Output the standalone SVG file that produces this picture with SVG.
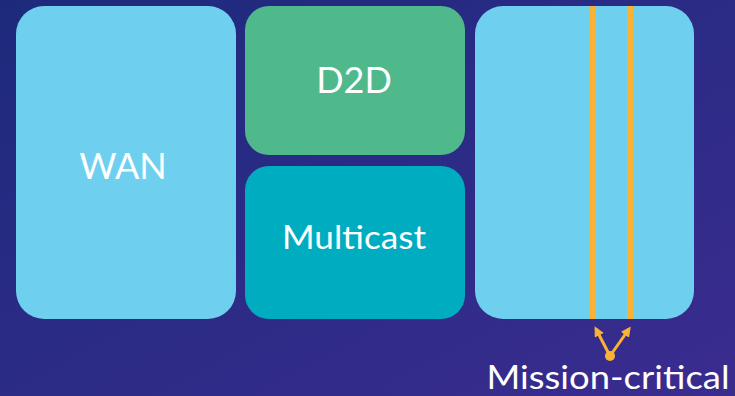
<svg xmlns="http://www.w3.org/2000/svg" width="735" height="396" viewBox="0 0 735 396">
  <style>
    .label { font-family: "Lato", "Liberation Sans", sans-serif; fill: #ffffff; text-anchor: middle; }
    .lane { fill: #f9b233; }
    .pointer { stroke: #f9b233; stroke-width: 3; fill: none; marker-end: url(#head); }
  </style>
  <defs>
    <linearGradient id="bg" x1="0" y1="0" x2="1" y2="1">
      <stop offset="0" stop-color="#1d2a7c"/>
      <stop offset="1" stop-color="#3a2c8f"/>
    </linearGradient>
    <marker id="head" viewBox="0 0 10 10" refX="7" refY="5" markerWidth="3.4" markerHeight="3.4" orient="auto" markerUnits="strokeWidth">
      <path d="M0,0 L10,5 L0,10 Z" fill="#f9b233"/>
    </marker>
  </defs>

  <rect x="0" y="0" width="735" height="396" fill="url(#bg)"/>

  <g id="wan">
    <rect x="16" y="6" width="220" height="313" rx="28" fill="#6ecfee"/>
    <text class="label" x="123" y="179" font-size="36">WAN</text>
  </g>

  <g id="d2d">
    <rect x="245" y="6" width="220" height="149" rx="24" fill="#4fb98b"/>
    <text class="label" x="354" y="93" font-size="36">D2D</text>
  </g>

  <g id="multicast">
    <rect x="245" y="166" width="220" height="153" rx="24" fill="#00adc0"/>
    <text class="label" x="354" y="249" font-size="32" textLength="144" lengthAdjust="spacingAndGlyphs">Multicast</text>
  </g>

  <g id="mission-critical">
    <rect x="475" y="6" width="219" height="313" rx="28" fill="#6ecfee"/>
    <rect class="lane" x="590" y="6" width="6" height="313"/>
    <rect class="lane" x="627" y="6" width="6" height="313"/>
    <text class="label" x="608" y="389" font-size="33" textLength="243" lengthAdjust="spacingAndGlyphs">Mission-critical</text>
  </g>

  <g id="connectors">
    <line class="pointer" x1="610" y1="356" x2="596" y2="329"/>
    <line class="pointer" x1="610" y1="356" x2="629" y2="329"/>
    <circle cx="610" cy="356" r="5" fill="#f9b233"/>
  </g>
</svg>
